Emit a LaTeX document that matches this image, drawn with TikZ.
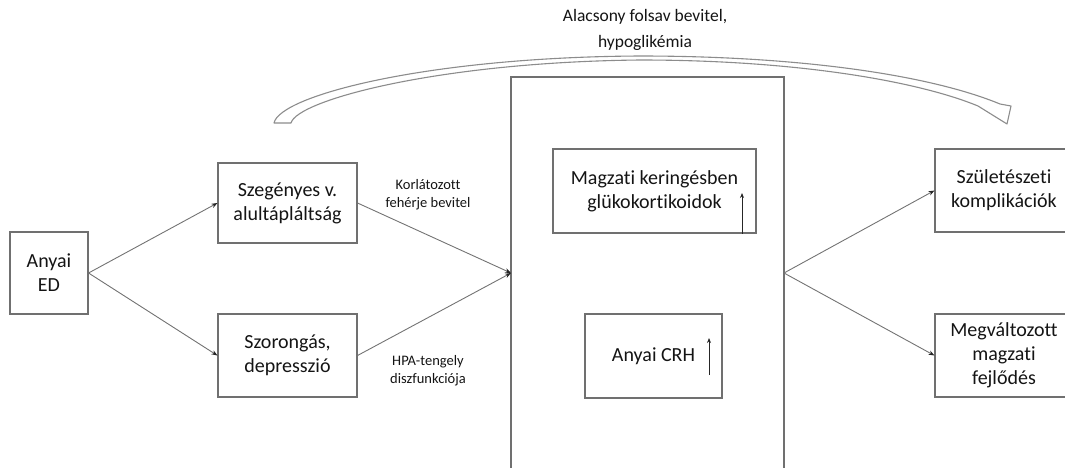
\documentclass[tikz,border=0pt]{standalone}
\usepackage{fontspec}
\setmainfont{Carlito}[Ligatures=NoCommon]
\usetikzlibrary{arrows.meta}
\definecolor{boxline}{RGB}{112,112,112}
\definecolor{arrline}{RGB}{115,115,115}
\definecolor{txt}{RGB}{20,20,20}
\tikzset{
  boxnode/.style={draw=boxline, line width=1.1pt, rectangle, inner sep=0pt, align=center,
    text=txt, font=\fontsize{20}{24}\selectfont},
  lbl/.style={align=center, text=txt, font=\fontsize{14.5}{18}\selectfont, inner sep=0pt},
  toplbl/.style={align=center, text=txt, font=\fontsize{17.5}{26}\selectfont, inner sep=0pt},
  conn/.style={draw=arrline, line width=0.9pt, -{Stealth[length=6pt,width=4.5pt,color=black!85]}},
  uparr/.style={draw=black!85, line width=0.9pt, -{Stealth[length=5pt,width=4pt]}},
  bigline/.style={draw=boxline, line width=1.1pt},
  curvearr/.style={draw=gray!90, line width=1.1pt, fill=white, line join=round}
}
\begin{document}
\begin{tikzpicture}[x=1pt,y=-1pt]
\useasboundingbox (0,0) rectangle (1065,467);
\clip (0,0) rectangle (1065,467);

% hollow curved arrow
\path[curvearr] (274,123) .. controls (280,95) and (430,57) .. (640,56)
  .. controls (800,56) and (930,75) .. (1000,104) -- (1011,106) -- (1007,124) -- (978,106)
  .. controls (920,82) and (800,60) .. (640,60)
  .. controls (440,62) and (297,100) .. (291,123) -- cycle;
\node[toplbl] (top) at (645,30) {Alacsony folsav bevitel,\\hypoglikémia};

% big box (open at bottom)
\draw[bigline] (511,480) -- (511,77) -- (784,77) -- (784,480);
\coordinate (conv) at (511,273);
\coordinate (div) at (784,273);

% nodes
\node[boxnode, minimum width=78pt, minimum height=82pt] (ed) at (49,273) {Anyai\\ED};
\node[boxnode, minimum width=139pt, minimum height=80pt] (szeg) at (287.5,203) {Szegényes v.\\alultápláltság};
\node[boxnode, minimum width=139pt, minimum height=83pt] (szor) at (287.5,355.5) {Szorongás,\\depresszió};
\node[boxnode, minimum width=203pt, minimum height=84pt] (mag) at (654.5,191) {Magzati keringésben\\glükokortikoidok};
\node[boxnode, minimum width=137pt, minimum height=84pt] (crh) at (653.5,356) {Anyai CRH};
\node[boxnode, minimum width=138pt, minimum height=83pt] (szul) at (1004,190.5) {Születészeti\\komplikációk};
\node[boxnode, minimum width=138pt, minimum height=83pt] (meg) at (1004,355.5) {Megváltozott\\magzati\\fejlődés};

% labels
\node[lbl] (kor) at (428,195) {Korlátozott\\fehérje bevitel};
\node[lbl] (hpa) at (428,371) {HPA-tengely\\diszfunkciója};

% connectors
\draw[conn] (ed.east) -- (szeg.west);
\draw[conn] (ed.east) -- (szor.west);
\draw[conn] (szeg.east) -- (conv);
\draw[conn] (szor.east) -- (conv);
\draw[conn] (div) -- (szul.west);
\draw[conn] (div) -- (meg.west);

% small up arrows
\coordinate (magup) at (742,193);
\draw[uparr] (mag.south -| magup) -- (magup);
\coordinate (crhlo) at (709,375);
\coordinate (crhup) at (709,338);
\draw[uparr] (crhlo) -- (crhup);
\end{tikzpicture}
\end{document}
